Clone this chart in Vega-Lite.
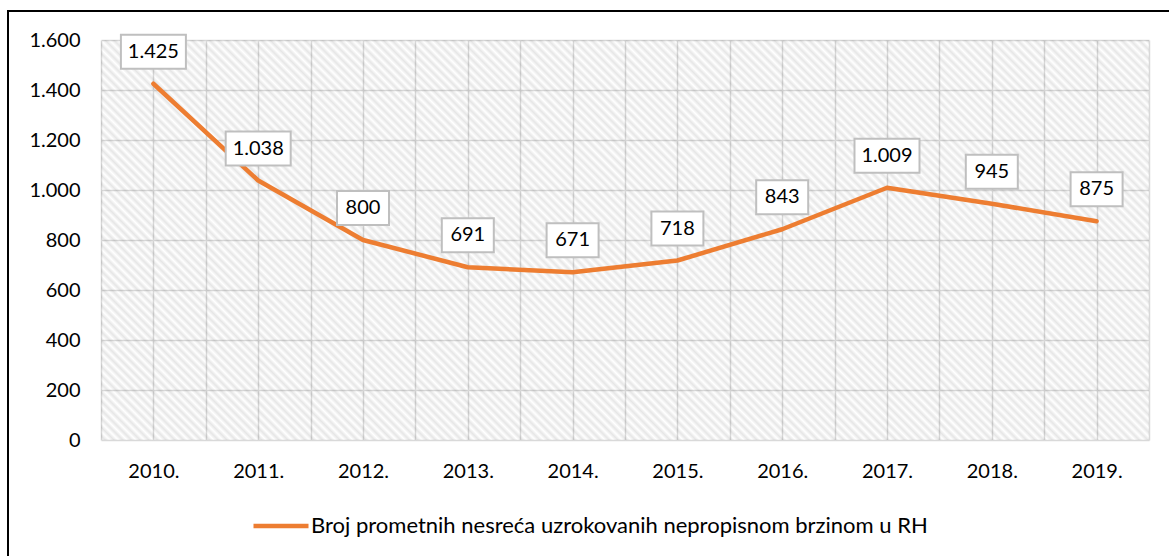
{
  "$schema": "https://vega.github.io/schema/vega-lite/v6.json",
  "width": 1165,
  "height": 549,
  "autosize": "none",
  "padding": {"left": 8, "top": 11, "right": -4, "bottom": -4},
  "background": "white",
  "config": {
    "view": {"stroke": "#000000", "strokeWidth": 2},
    "font": "Lato",
    "locale": {"number": {"decimal": ",", "thousands": ".", "grouping": [3], "currency": ["", ""]}},
    "axis": {"labelFont": "Lato", "labelFontSize": 20, "labelColor": "#000000", "ticks": false, "domain": false, "gridColor": "#d9d9d9", "gridWidth": 1.5, "title": null}
  },
  "data": {
    "values": [
      {"year": 2010, "value": 1425},
      {"year": 2011, "value": 1038},
      {"year": 2012, "value": 800},
      {"year": 2013, "value": 691},
      {"year": 2014, "value": 671},
      {"year": 2015, "value": 718},
      {"year": 2016, "value": 843},
      {"year": 2017, "value": 1009},
      {"year": 2018, "value": 945},
      {"year": 2019, "value": 875}
    ]
  },
  "layer": [
    {
      "data": {"values": [{}]},
      "mark": {
        "type": "rect",
        "fill": {
          "gradient": "linear", "x1": 0, "y1": 1, "x2": 1.206, "y2": 0.5397,
          "stops": [
{"offset":0,"color":"#0000"},{"offset":0.003,"color":"#00000019"},{"offset":0.006,"color":"#0000"},{"offset":0.009,"color":"#00000019"},{"offset":0.012,"color":"#0000"},{"offset":0.015,"color":"#00000019"},{"offset":0.018,"color":"#0000"},{"offset":0.021,"color":"#00000019"},{"offset":0.024,"color":"#0000"},{"offset":0.027,"color":"#00000019"},
{"offset":0.03,"color":"#0000"},{"offset":0.033,"color":"#00000019"},{"offset":0.036,"color":"#0000"},{"offset":0.039,"color":"#00000019"},{"offset":0.042,"color":"#0000"},{"offset":0.045,"color":"#00000019"},{"offset":0.048,"color":"#0000"},{"offset":0.051,"color":"#00000019"},{"offset":0.054,"color":"#0000"},{"offset":0.057,"color":"#00000019"},
{"offset":0.06,"color":"#0000"},{"offset":0.063,"color":"#00000019"},{"offset":0.066,"color":"#0000"},{"offset":0.069,"color":"#00000019"},{"offset":0.072,"color":"#0000"},{"offset":0.075,"color":"#00000019"},{"offset":0.078,"color":"#0000"},{"offset":0.081,"color":"#00000019"},{"offset":0.084,"color":"#0000"},{"offset":0.087,"color":"#00000019"},
{"offset":0.09,"color":"#0000"},{"offset":0.093,"color":"#00000019"},{"offset":0.096,"color":"#0000"},{"offset":0.099,"color":"#00000019"},{"offset":0.102,"color":"#0000"},{"offset":0.105,"color":"#00000019"},{"offset":0.108,"color":"#0000"},{"offset":0.111,"color":"#00000019"},{"offset":0.114,"color":"#0000"},{"offset":0.117,"color":"#00000019"},
{"offset":0.12,"color":"#0000"},{"offset":0.123,"color":"#00000019"},{"offset":0.126,"color":"#0000"},{"offset":0.129,"color":"#00000019"},{"offset":0.132,"color":"#0000"},{"offset":0.135,"color":"#00000019"},{"offset":0.138,"color":"#0000"},{"offset":0.141,"color":"#00000019"},{"offset":0.144,"color":"#0000"},{"offset":0.147,"color":"#00000019"},
{"offset":0.15,"color":"#0000"},{"offset":0.153,"color":"#00000019"},{"offset":0.156,"color":"#0000"},{"offset":0.159,"color":"#00000019"},{"offset":0.162,"color":"#0000"},{"offset":0.165,"color":"#00000019"},{"offset":0.168,"color":"#0000"},{"offset":0.171,"color":"#00000019"},{"offset":0.174,"color":"#0000"},{"offset":0.177,"color":"#00000019"},
{"offset":0.18,"color":"#0000"},{"offset":0.183,"color":"#00000019"},{"offset":0.186,"color":"#0000"},{"offset":0.189,"color":"#00000019"},{"offset":0.192,"color":"#0000"},{"offset":0.195,"color":"#00000019"},{"offset":0.198,"color":"#0000"},{"offset":0.201,"color":"#00000019"},{"offset":0.204,"color":"#0000"},{"offset":0.207,"color":"#00000019"},
{"offset":0.21,"color":"#0000"},{"offset":0.213,"color":"#00000019"},{"offset":0.216,"color":"#0000"},{"offset":0.219,"color":"#00000019"},{"offset":0.222,"color":"#0000"},{"offset":0.225,"color":"#00000019"},{"offset":0.228,"color":"#0000"},{"offset":0.231,"color":"#00000019"},{"offset":0.234,"color":"#0000"},{"offset":0.237,"color":"#00000019"},
{"offset":0.24,"color":"#0000"},{"offset":0.243,"color":"#00000019"},{"offset":0.246,"color":"#0000"},{"offset":0.249,"color":"#00000019"},{"offset":0.252,"color":"#0000"},{"offset":0.255,"color":"#00000019"},{"offset":0.258,"color":"#0000"},{"offset":0.261,"color":"#00000019"},{"offset":0.264,"color":"#0000"},{"offset":0.267,"color":"#00000019"},
{"offset":0.27,"color":"#0000"},{"offset":0.273,"color":"#00000019"},{"offset":0.276,"color":"#0000"},{"offset":0.279,"color":"#00000019"},{"offset":0.282,"color":"#0000"},{"offset":0.285,"color":"#00000019"},{"offset":0.288,"color":"#0000"},{"offset":0.291,"color":"#00000019"},{"offset":0.294,"color":"#0000"},{"offset":0.297,"color":"#00000019"},
{"offset":0.3,"color":"#0000"},{"offset":0.303,"color":"#00000019"},{"offset":0.306,"color":"#0000"},{"offset":0.309,"color":"#00000019"},{"offset":0.312,"color":"#0000"},{"offset":0.315,"color":"#00000019"},{"offset":0.318,"color":"#0000"},{"offset":0.321,"color":"#00000019"},{"offset":0.324,"color":"#0000"},{"offset":0.327,"color":"#00000019"},
{"offset":0.33,"color":"#0000"},{"offset":0.333,"color":"#00000019"},{"offset":0.336,"color":"#0000"},{"offset":0.339,"color":"#00000019"},{"offset":0.342,"color":"#0000"},{"offset":0.345,"color":"#00000019"},{"offset":0.348,"color":"#0000"},{"offset":0.351,"color":"#00000019"},{"offset":0.354,"color":"#0000"},{"offset":0.357,"color":"#00000019"},
{"offset":0.36,"color":"#0000"},{"offset":0.363,"color":"#00000019"},{"offset":0.366,"color":"#0000"},{"offset":0.369,"color":"#00000019"},{"offset":0.372,"color":"#0000"},{"offset":0.375,"color":"#00000019"},{"offset":0.378,"color":"#0000"},{"offset":0.381,"color":"#00000019"},{"offset":0.384,"color":"#0000"},{"offset":0.387,"color":"#00000019"},
{"offset":0.39,"color":"#0000"},{"offset":0.393,"color":"#00000019"},{"offset":0.396,"color":"#0000"},{"offset":0.399,"color":"#00000019"},{"offset":0.402,"color":"#0000"},{"offset":0.405,"color":"#00000019"},{"offset":0.408,"color":"#0000"},{"offset":0.411,"color":"#00000019"},{"offset":0.414,"color":"#0000"},{"offset":0.417,"color":"#00000019"},
{"offset":0.42,"color":"#0000"},{"offset":0.423,"color":"#00000019"},{"offset":0.426,"color":"#0000"},{"offset":0.429,"color":"#00000019"},{"offset":0.432,"color":"#0000"},{"offset":0.435,"color":"#00000019"},{"offset":0.438,"color":"#0000"},{"offset":0.441,"color":"#00000019"},{"offset":0.444,"color":"#0000"},{"offset":0.447,"color":"#00000019"},
{"offset":0.45,"color":"#0000"},{"offset":0.453,"color":"#00000019"},{"offset":0.456,"color":"#0000"},{"offset":0.459,"color":"#00000019"},{"offset":0.462,"color":"#0000"},{"offset":0.465,"color":"#00000019"},{"offset":0.468,"color":"#0000"},{"offset":0.471,"color":"#00000019"},{"offset":0.474,"color":"#0000"},{"offset":0.477,"color":"#00000019"},
{"offset":0.48,"color":"#0000"},{"offset":0.483,"color":"#00000019"},{"offset":0.486,"color":"#0000"},{"offset":0.489,"color":"#00000019"},{"offset":0.492,"color":"#0000"},{"offset":0.495,"color":"#00000019"},{"offset":0.498,"color":"#0000"},{"offset":0.501,"color":"#00000019"},{"offset":0.504,"color":"#0000"},{"offset":0.507,"color":"#00000019"},
{"offset":0.51,"color":"#0000"},{"offset":0.513,"color":"#00000019"},{"offset":0.516,"color":"#0000"},{"offset":0.519,"color":"#00000019"},{"offset":0.522,"color":"#0000"},{"offset":0.525,"color":"#00000019"},{"offset":0.528,"color":"#0000"},{"offset":0.531,"color":"#00000019"},{"offset":0.534,"color":"#0000"},{"offset":0.537,"color":"#00000019"},
{"offset":0.54,"color":"#0000"},{"offset":0.543,"color":"#00000019"},{"offset":0.546,"color":"#0000"},{"offset":0.549,"color":"#00000019"},{"offset":0.552,"color":"#0000"},{"offset":0.555,"color":"#00000019"},{"offset":0.558,"color":"#0000"},{"offset":0.561,"color":"#00000019"},{"offset":0.564,"color":"#0000"},{"offset":0.567,"color":"#00000019"},
{"offset":0.57,"color":"#0000"},{"offset":0.573,"color":"#00000019"},{"offset":0.576,"color":"#0000"},{"offset":0.579,"color":"#00000019"},{"offset":0.582,"color":"#0000"},{"offset":0.585,"color":"#00000019"},{"offset":0.588,"color":"#0000"},{"offset":0.591,"color":"#00000019"},{"offset":0.594,"color":"#0000"},{"offset":0.597,"color":"#00000019"},
{"offset":0.6,"color":"#0000"},{"offset":0.603,"color":"#00000019"},{"offset":0.606,"color":"#0000"},{"offset":0.609,"color":"#00000019"},{"offset":0.612,"color":"#0000"},{"offset":0.615,"color":"#00000019"},{"offset":0.618,"color":"#0000"},{"offset":0.621,"color":"#00000019"},{"offset":0.624,"color":"#0000"},{"offset":0.627,"color":"#00000019"},
{"offset":0.63,"color":"#0000"},{"offset":0.633,"color":"#00000019"},{"offset":0.636,"color":"#0000"},{"offset":0.639,"color":"#00000019"},{"offset":0.642,"color":"#0000"},{"offset":0.645,"color":"#00000019"},{"offset":0.648,"color":"#0000"},{"offset":0.651,"color":"#00000019"},{"offset":0.654,"color":"#0000"},{"offset":0.657,"color":"#00000019"},
{"offset":0.66,"color":"#0000"},{"offset":0.663,"color":"#00000019"},{"offset":0.666,"color":"#0000"},{"offset":0.669,"color":"#00000019"},{"offset":0.672,"color":"#0000"},{"offset":0.675,"color":"#00000019"},{"offset":0.678,"color":"#0000"},{"offset":0.681,"color":"#00000019"},{"offset":0.684,"color":"#0000"},{"offset":0.687,"color":"#00000019"},
{"offset":0.69,"color":"#0000"},{"offset":0.693,"color":"#00000019"},{"offset":0.696,"color":"#0000"},{"offset":0.699,"color":"#00000019"},{"offset":0.702,"color":"#0000"},{"offset":0.705,"color":"#00000019"},{"offset":0.708,"color":"#0000"},{"offset":0.711,"color":"#00000019"},{"offset":0.714,"color":"#0000"},{"offset":0.717,"color":"#00000019"},
{"offset":0.72,"color":"#0000"},{"offset":0.723,"color":"#00000019"},{"offset":0.726,"color":"#0000"},{"offset":0.729,"color":"#00000019"},{"offset":0.732,"color":"#0000"},{"offset":0.735,"color":"#00000019"},{"offset":0.738,"color":"#0000"},{"offset":0.741,"color":"#00000019"},{"offset":0.744,"color":"#0000"},{"offset":0.747,"color":"#00000019"},
{"offset":0.75,"color":"#0000"},{"offset":0.753,"color":"#00000019"},{"offset":0.756,"color":"#0000"},{"offset":0.759,"color":"#00000019"},{"offset":0.762,"color":"#0000"},{"offset":0.765,"color":"#00000019"},{"offset":0.768,"color":"#0000"},{"offset":0.771,"color":"#00000019"},{"offset":0.774,"color":"#0000"},{"offset":0.777,"color":"#00000019"},
{"offset":0.78,"color":"#0000"},{"offset":0.783,"color":"#00000019"},{"offset":0.786,"color":"#0000"},{"offset":0.789,"color":"#00000019"},{"offset":0.792,"color":"#0000"},{"offset":0.795,"color":"#00000019"},{"offset":0.798,"color":"#0000"},{"offset":0.801,"color":"#00000019"},{"offset":0.804,"color":"#0000"},{"offset":0.807,"color":"#00000019"},
{"offset":0.81,"color":"#0000"},{"offset":0.813,"color":"#00000019"},{"offset":0.816,"color":"#0000"},{"offset":0.819,"color":"#00000019"},{"offset":0.822,"color":"#0000"},{"offset":0.825,"color":"#00000019"},{"offset":0.828,"color":"#0000"},{"offset":0.831,"color":"#00000019"},{"offset":0.834,"color":"#0000"},{"offset":0.837,"color":"#00000019"},
{"offset":0.84,"color":"#0000"},{"offset":0.843,"color":"#00000019"},{"offset":0.846,"color":"#0000"},{"offset":0.849,"color":"#00000019"},{"offset":0.852,"color":"#0000"},{"offset":0.855,"color":"#00000019"},{"offset":0.858,"color":"#0000"},{"offset":0.861,"color":"#00000019"},{"offset":0.864,"color":"#0000"},{"offset":0.867,"color":"#00000019"},
{"offset":0.87,"color":"#0000"},{"offset":0.873,"color":"#00000019"},{"offset":0.876,"color":"#0000"},{"offset":0.879,"color":"#00000019"},{"offset":0.882,"color":"#0000"},{"offset":0.885,"color":"#00000019"},{"offset":0.888,"color":"#0000"},{"offset":0.891,"color":"#00000019"},{"offset":0.894,"color":"#0000"},{"offset":0.897,"color":"#00000019"},
{"offset":0.9,"color":"#0000"},{"offset":0.903,"color":"#00000019"},{"offset":0.906,"color":"#0000"},{"offset":0.909,"color":"#00000019"},{"offset":0.912,"color":"#0000"},{"offset":0.915,"color":"#00000019"},{"offset":0.918,"color":"#0000"},{"offset":0.921,"color":"#00000019"},{"offset":0.924,"color":"#0000"},{"offset":0.927,"color":"#00000019"},
{"offset":0.93,"color":"#0000"},{"offset":0.933,"color":"#00000019"},{"offset":0.936,"color":"#0000"},{"offset":0.939,"color":"#00000019"},{"offset":0.942,"color":"#0000"},{"offset":0.945,"color":"#00000019"},{"offset":0.948,"color":"#0000"},{"offset":0.951,"color":"#00000019"},{"offset":0.954,"color":"#0000"},{"offset":0.957,"color":"#00000019"},
{"offset":0.96,"color":"#0000"},{"offset":0.963,"color":"#00000019"},{"offset":0.966,"color":"#0000"},{"offset":0.969,"color":"#00000019"},{"offset":0.972,"color":"#0000"},{"offset":0.975,"color":"#00000019"},{"offset":0.978,"color":"#0000"},{"offset":0.981,"color":"#00000019"},{"offset":0.984,"color":"#0000"},{"offset":0.987,"color":"#00000019"},
{"offset":0.99,"color":"#0000"},{"offset":0.993,"color":"#00000019"},{"offset":0.996,"color":"#0000"},{"offset":0.999,"color":"#00000019"},{"offset":1,"color":"#0000000c"}
          ]
        }
      },
      "encoding": {
        "x": {"datum": 2009.5, "type": "quantitative"},
        "x2": {"datum": 2019.5},
        "y": {"datum": 0, "type": "quantitative"},
        "y2": {"datum": 1600}
      }
    },
    {
      "mark": {"type": "line", "strokeWidth": 4.5, "strokeCap": "round", "strokeJoin": "round"},
      "encoding": {
        "x": {
          "field": "year", "type": "quantitative",
          "scale": {"domain": [2009.5, 2019.5], "range": [93, 1141], "nice": false, "zero": false},
          "axis": {
            "orient": "bottom", "offset": -120, "grid": false,
            "ticks": true, "tickSize": -400, "tickColor": "#d9d9d9", "tickWidth": 1.5,
            "labelPadding": 421,
            "values": [2009.5, 2010, 2010.5, 2011, 2011.5, 2012, 2012.5, 2013, 2013.5, 2014, 2014.5, 2015, 2015.5, 2016, 2016.5, 2017, 2017.5, 2018, 2018.5, 2019, 2019.5],
            "labelExpr": "datum.value % 1 === 0 ? datum.value + '.' : ''",
            "labelOverlap": false, "labelFlush": false, "labelBound": false
          }
        },
        "y": {
          "field": "value", "type": "quantitative",
          "scale": {"domain": [0, 1600], "range": [429, 29], "nice": false, "zero": true},
          "axis": {
            "orient": "left", "offset": -72, "labelPadding": 0, "grid": true,
            "values": [0, 200, 400, 600, 800, 1000, 1200, 1400, 1600],
            "format": ",.0f"
          }
        },
        "color": {
          "datum": "Broj prometnih nesreća uzrokovanih nepropisnom brzinom u RH",
          "type": "nominal",
          "scale": {"range": ["#ED7D31"]},
          "legend": {
            "title": null, "orient": "none", "legendX": 243, "legendY": 485,
            "symbolType": "stroke", "symbolSize": 3025, "symbolStrokeWidth": 4.5,
            "labelFont": "Lato", "labelFontSize": 22, "labelColor": "#000000",
            "labelLimit": 0, "labelOffset": 0, "padding": 0
          }
        }
      }
    },
    {
      "transform": [{"filter": "datum.value >= 1000"}],
      "mark": {"type": "rect", "width": 65, "height": 34, "yOffset": -32, "fill": "#ffffff", "stroke": "#bfbfbf", "strokeWidth": 2},
      "encoding": {
        "x": {"field": "year", "type": "quantitative"},
        "y": {"field": "value", "type": "quantitative"}
      }
    },
    {
      "transform": [{"filter": "datum.value < 1000"}],
      "mark": {"type": "rect", "width": 52, "height": 34, "yOffset": -32, "fill": "#ffffff", "stroke": "#bfbfbf", "strokeWidth": 2},
      "encoding": {
        "x": {"field": "year", "type": "quantitative"},
        "y": {"field": "value", "type": "quantitative"}
      }
    },
    {
      "mark": {"type": "text", "font": "Lato", "fontSize": 20, "color": "#000000", "baseline": "middle", "yOffset": -32},
      "encoding": {
        "x": {"field": "year", "type": "quantitative"},
        "y": {"field": "value", "type": "quantitative"},
        "text": {"field": "value", "type": "quantitative", "format": ","}
      }
    }
  ]
}
